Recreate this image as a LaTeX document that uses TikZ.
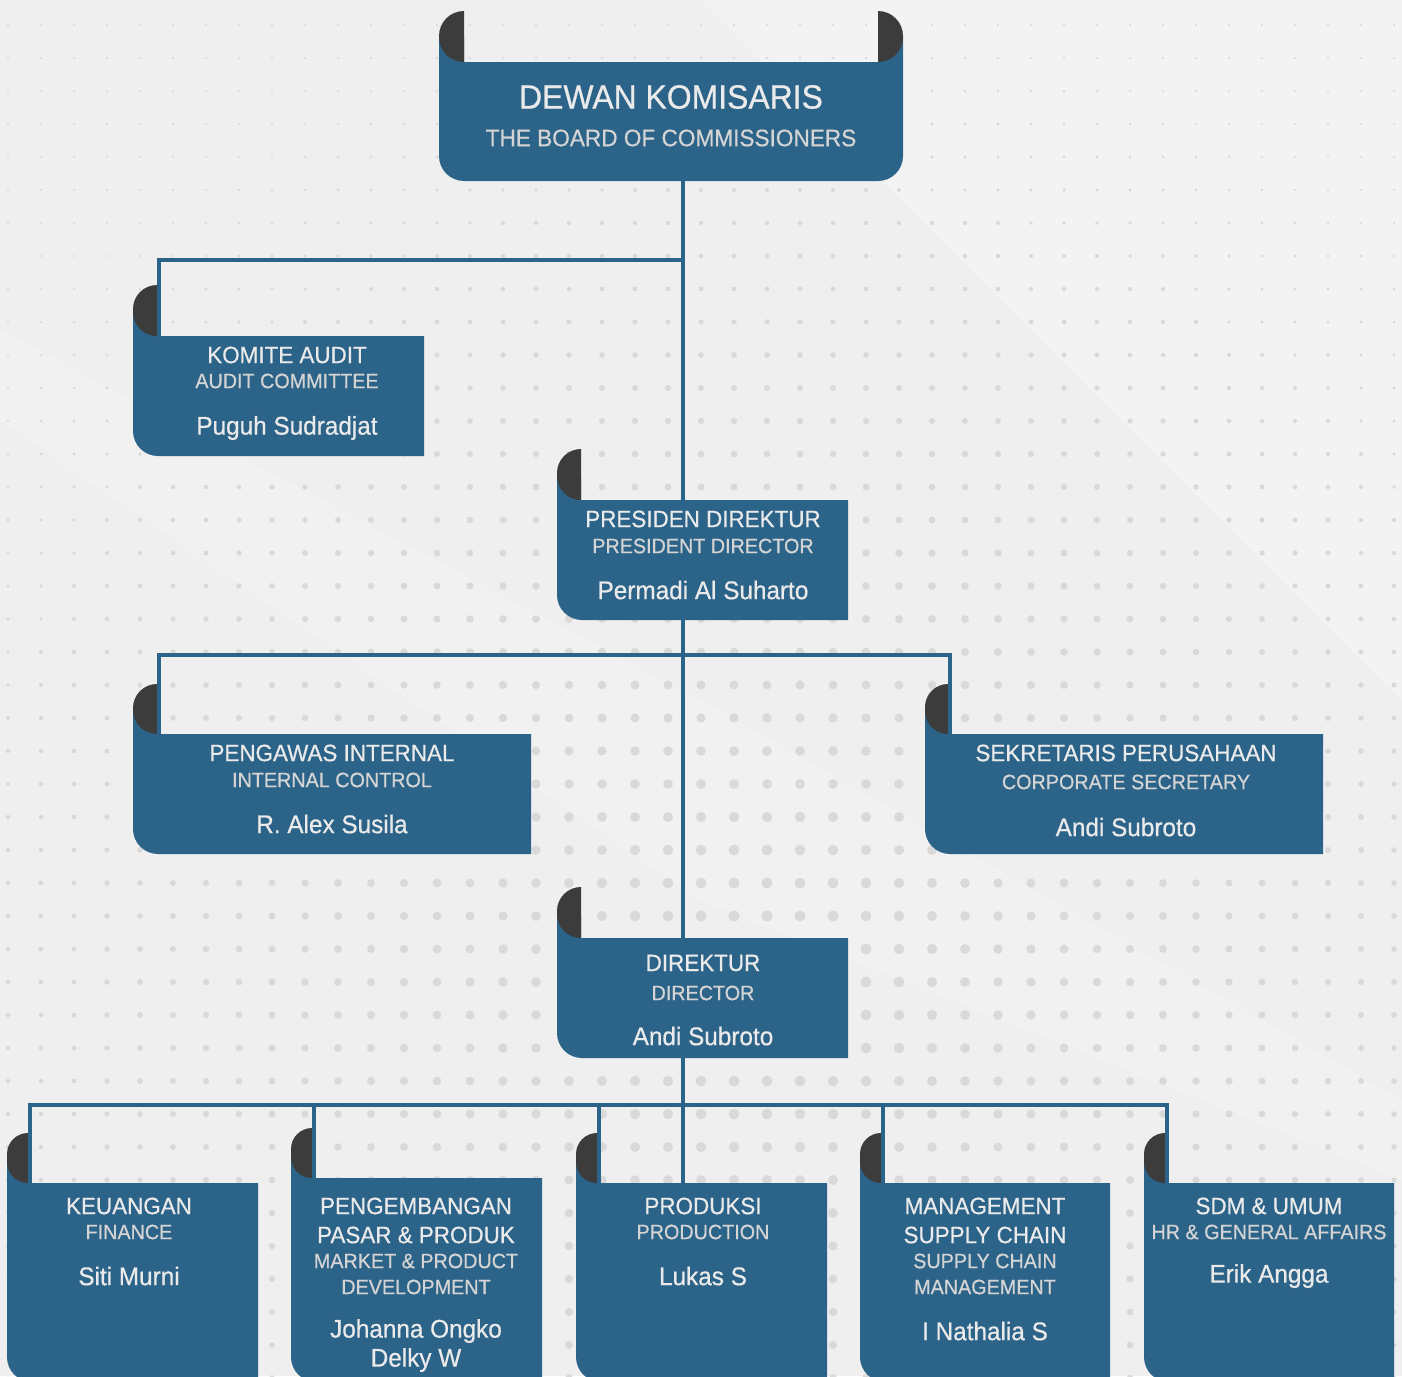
\documentclass[tikz,border=0pt]{standalone}
\usepackage{fontspec}
\setmainfont{Liberation Sans}[FakeStretch=0.95, FakeBold=0.6]
\definecolor{boxblue}{HTML}{2C6388}
\definecolor{curlgray}{HTML}{3C3C3C}
\definecolor{paper}{HTML}{EFEFEF}
\definecolor{dotgray}{HTML}{D9D9D9}
\definecolor{titlecol}{HTML}{EAEAEA}
\definecolor{subcol}{HTML}{D4D4D4}

\tikzset{
  link/.style={draw=boxblue, line width=2pt},
  ttl/.style={text=titlecol, inner sep=0pt, font=\fontsize{11.8}{12}\selectfont},
  sub/.style={text=subcol, inner sep=0pt, font=\fontsize{10.4}{11}\selectfont},
  who/.style={text=titlecol, inner sep=0pt, font=\fontsize{12.8}{13}\selectfont},
}

% scroll box: left, curl right, right, curl top, box top, bottom
\newcommand{\scrollbox}[6]{%
  \fill[boxblue] (#1,#5-22) -- (#1,#6-25) arc[start angle=180, end angle=90, radius=25]
    -- (#3,#6) -- (#3,#5) -- (#2,#5) -- (#2,#5-22) -- cycle;
  \fill[curlgray] (#2,#4) arc[start angle=270, end angle=180, radius={#2-#1}]
    -- (#1,{#5-#2+#1}) arc[start angle=180, end angle=90, radius={#2-#1}] -- cycle;
}

\begin{document}
\begin{tikzpicture}[x=0.5pt, y=-0.5pt]
  \useasboundingbox (0,0) rectangle (1402,1376);
  \clip (0,0) rectangle (1402,1376);
  \fill[paper] (0,0) rectangle (1402,1376);
  \fill[white, opacity=0.3] (700,0) -- (1402,0) -- (1402,700) -- cycle;
  \fill[white, opacity=0.18] (0,330) -- (0,420) -- (700,900) -- (1402,1180) -- (1402,1100) -- (700,700) -- cycle;

  % dots
  \foreach \i in {0,...,42} {
    \foreach \j in {0,...,41} {
      \pgfmathsetmacro\dx{8+33*\i}
      \pgfmathsetmacro\dy{25+33*\j}
      \pgfmathsetmacro\dr{max(1.1, 6.0-0.5*veclen((\dx-760)/100,(\dy-980)/100))}
      \fill[dotgray] (\dx,\dy) circle[radius=\dr];
    }
  }

  % boxes
  \fill[boxblue] (439,37) -- (439,156) arc[start angle=180, end angle=90, radius=25]
    -- (878,181) arc[start angle=90, end angle=0, radius=25] -- (903,37) -- (878,37)
    -- (878,62) -- (464,62) -- (464,37) -- cycle;
  \fill[curlgray] (464,11) arc[start angle=270, end angle=180, radius=25]
    -- (439,37) arc[start angle=180, end angle=90, radius=25] -- cycle;
  \fill[curlgray] (878,11) arc[start angle=270, end angle=360, radius=25]
    -- (903,37) arc[start angle=0, end angle=90, radius=25] -- cycle;
  \scrollbox{133}{157}{424}{285}{336}{456}
  \scrollbox{557}{581}{848}{449}{500}{620}
  \scrollbox{133}{157}{531}{684}{734}{854}
  \scrollbox{925}{948}{1323}{684}{734}{854}
  \scrollbox{557}{581}{848}{887}{938}{1058}
  \scrollbox{7}{28}{258}{1133}{1183}{1382}
  \scrollbox{291}{312}{542}{1128}{1178}{1382}
  \scrollbox{576}{597}{827}{1133}{1183}{1382}
  \scrollbox{860}{881}{1110}{1133}{1183}{1382}
  \scrollbox{1144}{1165}{1394}{1133}{1183}{1382}

  % connection points
  \coordinate (bod-out) at (683,181);
  \coordinate (bus1) at (683,260);
  \coordinate (kom-in) at (159,336);
  \coordinate (pres-in) at (683,500);
  \coordinate (pres-out) at (683,620);
  \coordinate (bus2) at (683,655);
  \coordinate (pen-in) at (159,734);
  \coordinate (sek-in) at (950,734);
  \coordinate (dir-in) at (683,938);
  \coordinate (dir-out) at (683,1058);
  \coordinate (bus3) at (683,1105);
  \coordinate (keu-in) at (30,1183);
  \coordinate (pgb-in) at (314,1178);
  \coordinate (pro-in) at (599,1183);
  \coordinate (msc-in) at (883,1183);
  \coordinate (sdm-in) at (1167,1183);
  \coordinate (pro-top) at (683,1183);

  % connectors
  \draw[link] (bod-out) -- (pres-in);
  \draw[link] (bus1) -| (kom-in);
  \draw[link] (pres-out) -- (dir-in);
  \draw[link] (pen-in) |- (bus2) -| (sek-in);
  \draw[link] (dir-out) -- (pro-top);
  \draw[link] (keu-in) |- (bus3) -| (sdm-in);
  \foreach \p in {pgb-in, pro-in, msc-in}
    \draw[link] (\p) -- (\p |- bus3);

  % texts
  \node[text=titlecol, inner sep=0pt, font=\fontsize{16.8}{18}\selectfont] (bod-t) at (671,97) {DEWAN KOMISARIS};
  \node[text=subcol, inner sep=0pt, font=\fontsize{11.9}{13}\selectfont] (bod-s) at (671,138) {THE BOARD OF COMMISSIONERS};

  \node[ttl] (kom-t) at (287,355) {KOMITE AUDIT};
  \node[sub] (kom-s) at (287,381) {AUDIT COMMITTEE};
  \node[who] (kom-n) at (287,428) {Puguh Sudradjat};

  \node[ttl] (pres-t) at (703,519) {PRESIDEN DIREKTUR};
  \node[sub] (pres-s) at (703,546) {PRESIDENT DIRECTOR};
  \node[who] (pres-n) at (703,590) {Permadi Al Suharto};

  \node[ttl] (pen-t) at (332,753) {PENGAWAS INTERNAL};
  \node[sub] (pen-s) at (332,780) {INTERNAL CONTROL};
  \node[who] (pen-n) at (332,824) {R. Alex Susila};

  \node[ttl] (sek-t) at (1126,753) {SEKRETARIS PERUSAHAAN};
  \node[sub] (sek-s) at (1126,782) {CORPORATE SECRETARY};
  \node[who] (sek-n) at (1126,827) {Andi Subroto};

  \node[ttl] (dir-t) at (703,963) {DIREKTUR};
  \node[sub] (dir-s) at (703,993) {DIRECTOR};
  \node[who] (dir-n) at (703,1036) {Andi Subroto};

  \node[ttl] (keu-t) at (129,1206) {KEUANGAN};
  \node[sub] (keu-s) at (129,1232) {FINANCE};
  \node[who] (keu-n) at (129,1276) {Siti Murni};

  \node[ttl] (pgb-t1) at (416,1206) {PENGEMBANGAN};
  \node[ttl] (pgb-t2) at (416,1235) {PASAR \& PRODUK};
  \node[sub] (pgb-s1) at (416,1261) {MARKET \& PRODUCT};
  \node[sub] (pgb-s2) at (416,1287) {DEVELOPMENT};
  \node[who] (pgb-n1) at (416,1331) {Johanna Ongko};
  \node[who] (pgb-n2) at (416,1360) {Delky W};

  \node[ttl] (pro-t) at (703,1206) {PRODUKSI};
  \node[sub] (pro-s) at (703,1232) {PRODUCTION};
  \node[who] (pro-n) at (703,1276) {Lukas S};

  \node[ttl] (msc-t1) at (985,1206) {MANAGEMENT};
  \node[ttl] (msc-t2) at (985,1235) {SUPPLY CHAIN};
  \node[sub] (msc-s1) at (985,1261) {SUPPLY CHAIN};
  \node[sub] (msc-s2) at (985,1287) {MANAGEMENT};
  \node[who] (msc-n) at (985,1331) {I Nathalia S};

  \node[ttl] (sdm-t) at (1269,1206) {SDM \& UMUM};
  \node[sub] (sdm-s) at (1269,1232) {HR \& GENERAL AFFAIRS};
  \node[who] (sdm-n) at (1269,1276) {Erik Angga};
\end{tikzpicture}
\end{document}
